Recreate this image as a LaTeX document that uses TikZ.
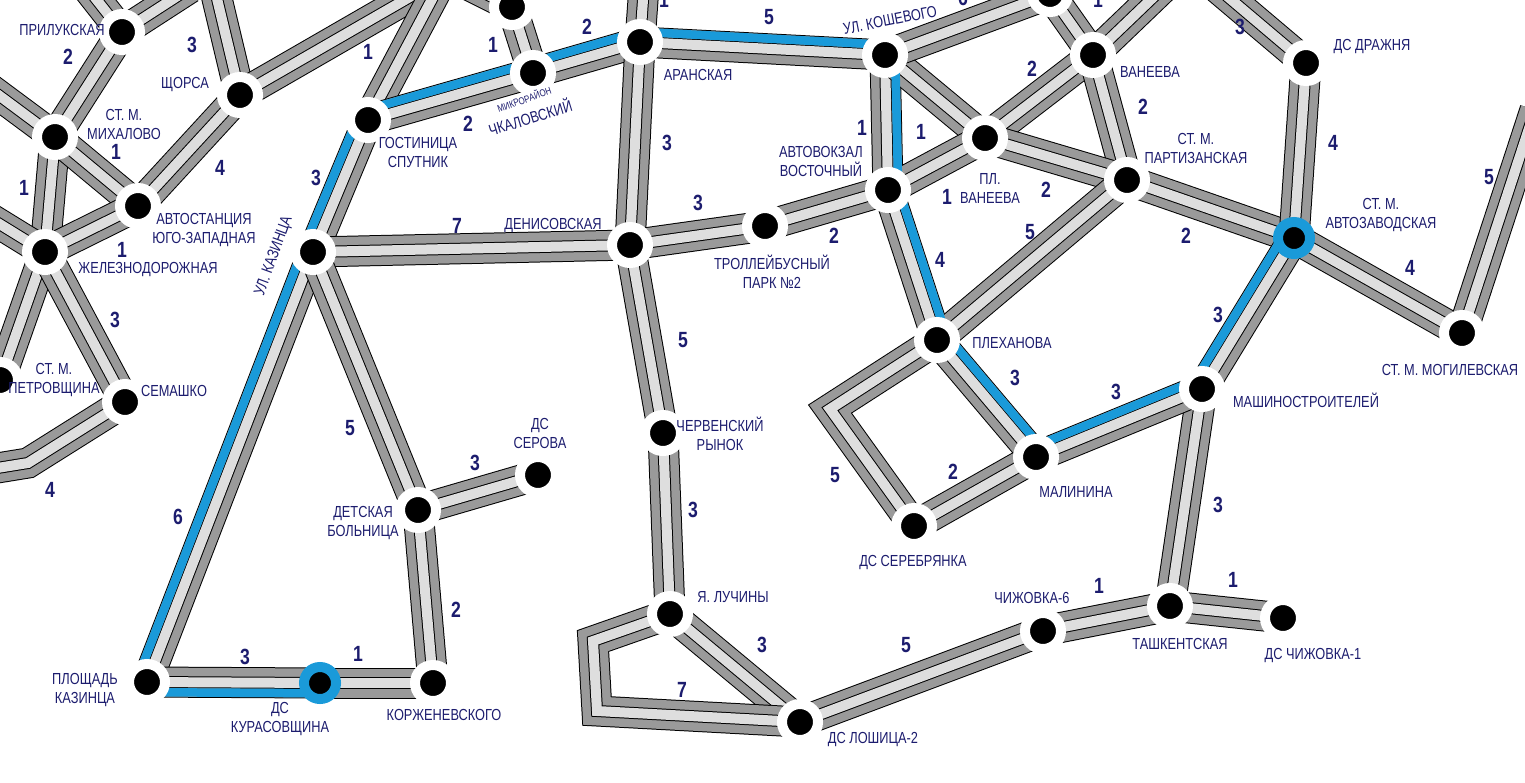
\documentclass[tikz,border=0pt]{standalone}
\usepackage{fontspec}
\setmainfont{Liberation Sans}[FakeStretch=0.8]
\usetikzlibrary{calc}
\definecolor{navy}{HTML}{1C1C6E}
\definecolor{roaddark}{HTML}{9A9A9A}
\definecolor{roadlight}{HTML}{DEDEDE}
\definecolor{routeblue}{HTML}{1A9AD9}

\begin{document}
\begin{tikzpicture}[
			x=1pt, y=-1pt,
			road/.style={draw=black, line width=31pt,
				postaction={draw=roaddark, line width=29pt},
				postaction={draw=black, line width=12pt},
				postaction={draw=roadlight, line width=10pt}},
			route/.style={draw=routeblue, line width=8.5pt},
			stop/.style={circle, fill=black, draw=white, line width=10pt, minimum size=36pt, inner sep=0pt},
			hub/.style={stop, draw=routeblue, line width=10pt, minimum size=32pt},
			lbl/.style={font=\fontsize{16}{19}\selectfont, text=navy, align=center, inner sep=0pt},
			num/.style={font=\bfseries\fontsize{22}{22}\selectfont, text=navy, inner sep=0pt}
			]
			
			\useasboundingbox (0,0) rectangle (1525,782);
			\clip (0,0) rectangle (1525,782);
			
			% stop positions
			\coordinate (prilukskaya) at (122,32);
			\coordinate (shchorsa) at (240,95);
			\coordinate (mikhalovo) at (55,137);
			\coordinate (avtostantsiya) at (138,206);
			\coordinate (zheleznodorozhnaya) at (45,252);
			\coordinate (petrovshchina) at (0,380);
			\coordinate (semashko) at (125,402);
			\coordinate (sputnik) at (368,120);
			\coordinate (kazintsa) at (313,252);
			\coordinate (topstop) at (512,7);
			\coordinate (chkalovsky) at (533,73);
			\coordinate (aranskaya) at (640,42);
			\coordinate (koshevogo) at (885,55);
			\coordinate (topstopb) at (1050,-6);
			\coordinate (vaneeva) at (1093,55);
			\coordinate (plvaneeva) at (985,138);
			\coordinate (avtovokzal) at (888,190);
			\coordinate (denisovskaya) at (630,245);
			\coordinate (trolpark) at (765,226);
			\coordinate (partizanskaya) at (1127,180);
			\coordinate (drazhnya) at (1306,63);
			\coordinate (avtozavodskaya) at (1294,238);
			\coordinate (mogilevskaya) at (1462,333);
			\coordinate (plekhanova) at (937,340);
			\coordinate (malinina) at (1036,457);
			\coordinate (mashinostroitelei) at (1202,389);
			\coordinate (serebryanka) at (914,526);
			\coordinate (chervensky) at (663,433);
			\coordinate (luchiny) at (670,614);
			\coordinate (loshitsa) at (800,722);
			\coordinate (chizhovkasix) at (1043,631);
			\coordinate (tashkentskaya) at (1170,606);
			\coordinate (chizhovkaone) at (1283,618);
			\coordinate (detskaya) at (418,510);
			\coordinate (serova) at (538,475);
			\coordinate (plkazintsa) at (147,682);
			\coordinate (kurasovshchina) at (320,683);
			\coordinate (korzhenevskogo) at (433,683);
			
			% road ends off the sheet and bends
			\coordinate (exit-pril-w) at (85,-15);
			\coordinate (exit-pril-e) at (190,-12);
			\coordinate (exit-mikh) at (-15,85);
			\coordinate (exit-shch-n) at (214,-14);
			\coordinate (exit-shch-ne) at (429,-14);
			\coordinate (exit-zhel) at (-15,215);
			\coordinate (bend-semashko) at (28,463);
			\coordinate (exit-semashko) at (-15,470);
			\coordinate (exit-sputnik) at (439,-14);
			\coordinate (exit-topstop) at (470,-14);
			\coordinate (exit-aranskaya) at (644,-14);
			\coordinate (exit-vaneeva) at (1165,-14);
			\coordinate (exit-drazhnya) at (1215,-14);
			\coordinate (exit-mogilevskaya) at (1535,110);
			\coordinate (bend-serebryanka) at (830,409);
			\coordinate (bend-luchiny-a) at (593,641);
			\coordinate (bend-luchiny-b) at (597,711);
			
			% roads
			\draw[road] (prilukskaya) -- (exit-pril-w);
			\draw[road] (prilukskaya) -- (exit-pril-e);
			\draw[road] (prilukskaya) -- (mikhalovo);
			\draw[road] (mikhalovo) -- (exit-mikh);
			\draw[road] (mikhalovo) -- (zheleznodorozhnaya);
			\draw[road] (mikhalovo) -- (avtostantsiya);
			\draw[road] (shchorsa) -- (exit-shch-n);
			\draw[road] (shchorsa) -- (exit-shch-ne);
			\draw[road] (shchorsa) -- (avtostantsiya);
			\draw[road] (zheleznodorozhnaya) -- (avtostantsiya);
			\draw[road] (zheleznodorozhnaya) -- (exit-zhel);
			\draw[road] (zheleznodorozhnaya) -- (petrovshchina);
			\draw[road] (zheleznodorozhnaya) -- (semashko);
			\draw[road] (semashko) -- (bend-semashko) -- (exit-semashko);
			
			\draw[road] (sputnik) -- (exit-sputnik);
			\draw[road] (sputnik) -- (kazintsa);
			\draw[road] (sputnik) -- (chkalovsky);
			\draw[road] (topstop) -- (exit-topstop);
			\draw[road] (topstop) -- (chkalovsky);
			\draw[road] (chkalovsky) -- (aranskaya);
			\draw[road] (aranskaya) -- (exit-aranskaya);
			\draw[road] (aranskaya) -- (koshevogo);
			\draw[road] (aranskaya) -- (denisovskaya);
			\draw[road] (kazintsa) -- (denisovskaya);
			\draw[road] (kazintsa) -- (plkazintsa);
			\draw[road] (kazintsa) -- (detskaya);
			\draw[road] (detskaya) -- (serova);
			\draw[road] (detskaya) -- (korzhenevskogo);
			\draw[road] (plkazintsa) -- (kurasovshchina);
			\draw[road] (kurasovshchina) -- (korzhenevskogo);
			\draw[road] (denisovskaya) -- (trolpark);
			\draw[road] (trolpark) -- (avtovokzal);
			\draw[road] (denisovskaya) -- (chervensky);
			\draw[road] (chervensky) -- (luchiny);
			\draw[road] (luchiny) -- (loshitsa);
			\draw[road] (luchiny) -- (bend-luchiny-a) -- (bend-luchiny-b) -- (loshitsa);
			\draw[road] (loshitsa) -- (chizhovkasix);
			\draw[road] (chizhovkasix) -- (tashkentskaya);
			\draw[road] (tashkentskaya) -- (chizhovkaone);
			\draw[road] (tashkentskaya) -- (mashinostroitelei);
			
			\draw[road] (koshevogo) -- (avtovokzal);
			\draw[road] (koshevogo) -- (plvaneeva);
			\draw[road] (koshevogo) -- (topstopb);
			\draw[road] (topstopb) -- (vaneeva);
			\draw[road] (vaneeva) -- (exit-vaneeva);
			\draw[road] (vaneeva) -- (plvaneeva);
			\draw[road] (vaneeva) -- (partizanskaya);
			\draw[road] (avtovokzal) -- (plvaneeva);
			\draw[road] (plvaneeva) -- (partizanskaya);
			\draw[road] (avtovokzal) -- (plekhanova);
			\draw[road] (partizanskaya) -- (plekhanova);
			\draw[road] (partizanskaya) -- (avtozavodskaya);
			\draw[road] (drazhnya) -- (exit-drazhnya);
			\draw[road] (drazhnya) -- (avtozavodskaya);
			\draw[road] (avtozavodskaya) -- (mogilevskaya);
			\draw[road] (mogilevskaya) -- (exit-mogilevskaya);
			\draw[road] (avtozavodskaya) -- (mashinostroitelei);
			\draw[road] (plekhanova) -- (malinina);
			\draw[road] (malinina) -- (mashinostroitelei);
			\draw[road] (plekhanova) -- (bend-serebryanka) -- (serebryanka);
			\draw[road] (serebryanka) -- (malinina);
			
			% blue route along one side
			\draw[route] ($(sputnik)!10.2pt!-90:(kazintsa)$) -- ($(kazintsa)!10.2pt!90:(sputnik)$);
			\draw[route] ($(kazintsa)!10.2pt!-90:(plkazintsa)$) -- ($(plkazintsa)!10.2pt!90:(kazintsa)$);
			\draw[route] ($(plkazintsa)!10.2pt!-90:(kurasovshchina)$) -- ($(kurasovshchina)!10.2pt!90:(plkazintsa)$);
			\draw[route] ($(sputnik)!10.2pt!90:(chkalovsky)$) -- ($(chkalovsky)!10.2pt!-90:(sputnik)$);
			\draw[route] ($(chkalovsky)!10.2pt!90:(aranskaya)$) -- ($(aranskaya)!10.2pt!-90:(chkalovsky)$);
			\draw[route] ($(aranskaya)!10.2pt!90:(koshevogo)$) -- ($(koshevogo)!10.2pt!-90:(aranskaya)$);
			\draw[route] ($(koshevogo)!10.2pt!90:(avtovokzal)$) -- ($(avtovokzal)!10.2pt!-90:(koshevogo)$);
			\draw[route] ($(avtovokzal)!10.2pt!90:(plekhanova)$) -- ($(plekhanova)!10.2pt!-90:(avtovokzal)$);
			\draw[route] ($(plekhanova)!10.2pt!90:(malinina)$) -- ($(malinina)!10.2pt!-90:(plekhanova)$);
			\draw[route] ($(malinina)!10.2pt!90:(mashinostroitelei)$) -- ($(mashinostroitelei)!10.2pt!-90:(malinina)$);
			\draw[route] ($(mashinostroitelei)!10.2pt!90:(avtozavodskaya)$) -- ($(avtozavodskaya)!10.2pt!-90:(mashinostroitelei)$);
			
			% stops
			\node[stop] (prilukskaya-dot) at (prilukskaya) {};
			\node[stop] (shchorsa-dot) at (shchorsa) {};
			\node[stop] (mikhalovo-dot) at (mikhalovo) {};
			\node[stop] (avtostantsiya-dot) at (avtostantsiya) {};
			\node[stop] (zheleznodorozhnaya-dot) at (zheleznodorozhnaya) {};
			\node[stop] (petrovshchina-dot) at (petrovshchina) {};
			\node[stop] (semashko-dot) at (semashko) {};
			\node[stop] (sputnik-dot) at (sputnik) {};
			\node[stop] (kazintsa-dot) at (kazintsa) {};
			\node[stop] (topstop-dot) at (topstop) {};
			\node[stop] (chkalovsky-dot) at (chkalovsky) {};
			\node[stop] (aranskaya-dot) at (aranskaya) {};
			\node[stop] (koshevogo-dot) at (koshevogo) {};
			\node[stop] (topstopb-dot) at (topstopb) {};
			\node[stop] (vaneeva-dot) at (vaneeva) {};
			\node[stop] (plvaneeva-dot) at (plvaneeva) {};
			\node[stop] (avtovokzal-dot) at (avtovokzal) {};
			\node[stop] (denisovskaya-dot) at (denisovskaya) {};
			\node[stop] (trolpark-dot) at (trolpark) {};
			\node[stop] (partizanskaya-dot) at (partizanskaya) {};
			\node[stop] (drazhnya-dot) at (drazhnya) {};
			\node[hub] (avtozavodskaya-dot) at (avtozavodskaya) {};
			\node[stop] (mogilevskaya-dot) at (mogilevskaya) {};
			\node[stop] (plekhanova-dot) at (plekhanova) {};
			\node[stop] (malinina-dot) at (malinina) {};
			\node[stop] (mashinostroitelei-dot) at (mashinostroitelei) {};
			\node[stop] (serebryanka-dot) at (serebryanka) {};
			\node[stop] (chervensky-dot) at (chervensky) {};
			\node[stop] (luchiny-dot) at (luchiny) {};
			\node[stop] (loshitsa-dot) at (loshitsa) {};
			\node[stop] (chizhovkasix-dot) at (chizhovkasix) {};
			\node[stop] (tashkentskaya-dot) at (tashkentskaya) {};
			\node[stop] (chizhovkaone-dot) at (chizhovkaone) {};
			\node[stop] (detskaya-dot) at (detskaya) {};
			\node[stop] (serova-dot) at (serova) {};
			\node[stop] (plkazintsa-dot) at (plkazintsa) {};
			\node[hub] (kurasovshchina-dot) at (kurasovshchina) {};
			\node[stop] (korzhenevskogo-dot) at (korzhenevskogo) {};
			
			% stop names
			\node[lbl] (prilukskaya-name) at (62,30) {ПРИЛУКСКАЯ};
			\node[lbl] (shchorsa-name) at (185,85) {ЩОРСА};
			\node[lbl] (mikhalovo-name) at (124,124) {СТ. М.\\МИХАЛОВО};
			\node[lbl] (avtostantsiya-name) at (204,230) {АВТОСТАНЦИЯ\\ЮГО-ЗАПАДНАЯ};
			\node[lbl] (zheleznodorozhnaya-name) at (148,270) {ЖЕЛЕЗНОДОРОЖНАЯ};
			\node[lbl] (petrovshchina-name) at (54,380) {СТ. М.\\ПЕТРОВЩИНА};
			\node[lbl] (semashko-name) at (174,391) {СЕМАШКО};
			\node[lbl] (sputnik-name) at (418,152) {ГОСТИНИЦА\\СПУТНИК};
			\node[lbl, rotate=70] (kazintsa-name) at (274,256) {УЛ. КАЗИНЦА};
			\node[lbl, rotate=19, font=\fontsize{10}{10}\selectfont] (chkalovsky-top) at (524,99) {МИКРОРАЙОН};
			\node[lbl, rotate=17] (chkalovsky-name) at (530,117) {ЧКАЛОВСКИЙ};
			\node[lbl] (aranskaya-name) at (698,75) {АРАНСКАЯ};
			\node[lbl, rotate=11] (koshevogo-name) at (890,20) {УЛ. КОШЕВОГО};
			\node[lbl] (denisovskaya-name) at (553,226) {ДЕНИСОВСКАЯ};
			\node[lbl] (trolpark-name) at (772,272) {ТРОЛЛЕЙБУСНЫЙ\\ПАРК №2};
			\node[lbl] (avtovokzal-name) at (821,161) {АВТОВОКЗАЛ\\ВОСТОЧНЫЙ};
			\node[lbl] (plvaneeva-name) at (990,188) {ПЛ.\\ВАНЕЕВА};
			\node[lbl] (vaneeva-name) at (1150,72) {ВАНЕЕВА};
			\node[lbl] (partizanskaya-name) at (1196,148) {СТ. М.\\ПАРТИЗАНСКАЯ};
			\node[lbl] (drazhnya-name) at (1372,47) {ДС ДРАЖНЯ};
			\node[lbl] (avtozavodskaya-name) at (1381,215) {СТ. М.\\АВТОЗАВОДСКАЯ};
			\node[lbl] (mogilevskaya-name) at (1450,370) {СТ. М. МОГИЛЕВСКАЯ};
			\node[lbl] (plekhanova-name) at (1012,343) {ПЛЕХАНОВА};
			\node[lbl] (malinina-name) at (1076,492) {МАЛИНИНА};
			\node[lbl] (mashinostroitelei-name) at (1306,400) {МАШИНОСТРОИТЕЛЕЙ};
			\node[lbl] (serebryanka-name) at (913,562) {ДС СЕРЕБРЯНКА};
			\node[lbl] (chervensky-name) at (720,434) {ЧЕРВЕНСКИЙ\\РЫНОК};
			\node[lbl] (serova-name) at (540,433) {ДС\\СЕРОВА};
			\node[lbl] (detskaya-name) at (363,523) {ДЕТСКАЯ\\БОЛЬНИЦА};
			\node[lbl] (luchiny-name) at (733,597) {Я. ЛУЧИНЫ};
			\node[lbl] (loshitsa-name) at (873,739) {ДС ЛОШИЦА-2};
			\node[lbl] (chizhovkasix-name) at (1032,598) {ЧИЖОВКА-6};
			\node[lbl] (tashkentskaya-name) at (1180,644) {ТАШКЕНТСКАЯ};
			\node[lbl] (chizhovkaone-name) at (1313,655) {ДС ЧИЖОВКА-1};
			\node[lbl] (plkazintsa-name) at (85,690) {ПЛОЩАДЬ\\КАЗИНЦА};
			\node[lbl] (kurasovshchina-name) at (280,719) {ДС\\КУРАСОВЩИНА};
			\node[lbl] (korzhenevskogo-name) at (444,715) {КОРЖЕНЕВСКОГО};
			
			% run lengths
			\node[num] (len-pril-mikh) at (68,57) {2};
			\node[num] (len-shch-n) at (192,45) {3};
			\node[num] (len-mikh-avto) at (116,152) {1};
			\node[num] (len-mikh-zhel) at (24,188) {1};
			\node[num] (len-shch-avto) at (220,168) {4};
			\node[num] (len-zhel-avto) at (122,250) {1};
			\node[num] (len-zhel-sem) at (115,320) {3};
			\node[num] (len-sem-exit) at (50,490) {4};
			\node[num] (len-sput-exit) at (368,52) {1};
			\node[num] (len-sput-kaz) at (316,178) {3};
			\node[num] (len-sput-chk) at (468,124) {2};
			\node[num] (len-top-chk) at (493,45) {1};
			\node[num] (len-chk-ara) at (587,27) {2};
			\node[num] (len-ara-exit) at (664,0) {1};
			\node[num] (len-ara-kosh) at (769,17) {5};
			\node[num] (len-ara-den) at (667,143) {3};
			\node[num] (len-kaz-den) at (457,226) {7};
			\node[num] (len-den-trol) at (698,203) {3};
			\node[num] (len-trol-avv) at (834,236) {2};
			\node[num] (len-kosh-avv) at (862,128) {1};
			\node[num] (len-kosh-plv) at (921,132) {1};
			\node[num] (len-avv-plv) at (947,197) {1};
			\node[num] (len-kosh-top) at (963,-2) {6};
			\node[num] (len-top-van) at (1098,0) {1};
			\node[num] (len-plv-van) at (1032,69) {2};
			\node[num] (len-van-part) at (1143,107) {2};
			\node[num] (len-plv-part) at (1046,190) {2};
			\node[num] (len-part-plekh) at (1030,232) {5};
			\node[num] (len-part-avz) at (1186,236) {2};
			\node[num] (len-drazh-exit) at (1240,27) {3};
			\node[num] (len-drazh-avz) at (1333,143) {4};
			\node[num] (len-avz-mog) at (1410,268) {4};
			\node[num] (len-mog-exit) at (1489,177) {5};
			\node[num] (len-avz-mash) at (1218,315) {3};
			\node[num] (len-avv-plekh) at (940,260) {4};
			\node[num] (len-plekh-mal) at (1015,378) {3};
			\node[num] (len-mal-mash) at (1116,392) {3};
			\node[num] (len-plekh-ser) at (835,475) {5};
			\node[num] (len-ser-mal) at (953,472) {2};
			\node[num] (len-mash-tash) at (1218,505) {3};
			\node[num] (len-chsix-tash) at (1099,586) {1};
			\node[num] (len-tash-chone) at (1233,580) {1};
			\node[num] (len-losh-chsix) at (906,645) {5};
			\node[num] (len-den-cherv) at (683,340) {5};
			\node[num] (len-cherv-luch) at (693,510) {3};
			\node[num] (len-luch-losh) at (762,645) {3};
			\node[num] (len-luch-loop) at (682,690) {7};
			\node[num] (len-kaz-det) at (350,428) {5};
			\node[num] (len-det-ser) at (475,463) {3};
			\node[num] (len-det-korzh) at (456,610) {2};
			\node[num] (len-kaz-plk) at (178,517) {6};
			\node[num] (len-plk-kur) at (245,657) {3};
			\node[num] (len-kur-korzh) at (358,654) {1};
			
		\end{tikzpicture}
\end{document}
